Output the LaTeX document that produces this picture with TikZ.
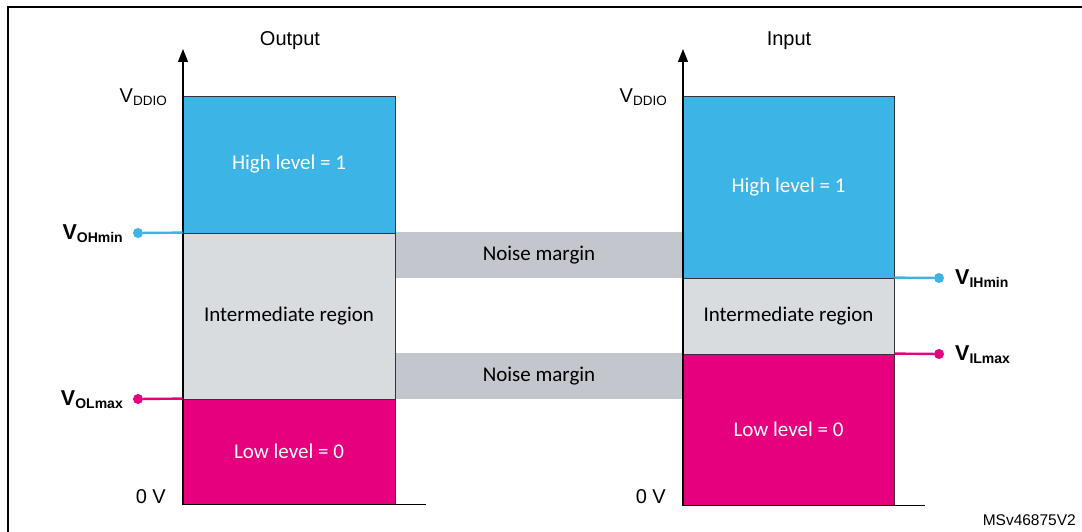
\documentclass[tikz,border=0pt]{standalone}
\usepackage{fontspec}
\setmainfont{Liberation Sans}
\newfontfamily\boxfont{Carlito}
\usetikzlibrary{arrows.meta}
\definecolor{stblue}{HTML}{3CB4E6}
\definecolor{stpink}{HTML}{E6007E}
\definecolor{midgrey}{HTML}{D9DCDF}
\definecolor{noisegrey}{HTML}{C3C6CC}
\tikzset{
  block/.style={draw=black!80, line width=0.8pt, inner sep=0pt, font=\boxfont\fontsize{21}{24}\selectfont},
  wtext/.style={text=white},
  noiseband/.style={fill=noisegrey, inner sep=0pt, minimum width=288pt, minimum height=46pt, font=\boxfont\fontsize{21}{24}\selectfont},
  dot/.style={circle, inner sep=0pt, minimum size=10pt},
  lvl/.style={font=\fontsize{21.5}{24}\selectfont\bfseries},
  plainlbl/.style={font=\fontsize{20}{24}\selectfont},
  axisline/.style={line width=1.3pt, -{Triangle[length=13pt,width=10pt]}},
  marker/.style={line width=2.4pt},
}
\newcommand{\sublbl}[2]{#1\raisebox{-3pt}{\fontsize{14}{14}\selectfont #2}}
\newcommand{\subplain}[2]{#1\raisebox{-3pt}{\fontsize{13.5}{14}\selectfont #2}}
\begin{document}
\begin{tikzpicture}[x=1pt,y=-1pt]
\useasboundingbox (0,0) rectangle (1082,532);
\clip (0,0) rectangle (1082,532);
% frame
\draw[line width=2.5pt] (8,600) -- (8,7) -- (1100,7);

% noise margin bands
\node[noiseband] (nm1) at (539,255) {Noise margin};
\node[noiseband] (nm2) at (539,376) {Noise margin};

% output blocks
\node[block, fill=stblue, wtext, minimum width=212pt, minimum height=137pt] (ohigh) at (289,164.5) {High level = 1};
\node[block, fill=midgrey, minimum width=212pt, minimum height=166pt] (omid) at (289,316) {Intermediate region};
\node[block, fill=stpink, wtext, minimum width=212pt, minimum height=105pt] (olow) at (289,451.5) {Low level = 0};

% input blocks
\node[block, fill=stblue, wtext, minimum width=211pt, minimum height=182pt] (ihigh) at (788.5,187) {High level = 1};
\node[block, fill=midgrey, minimum width=211pt, minimum height=76pt] (imid) at (788.5,316) {Intermediate region};
\node[block, fill=stpink, wtext, minimum width=211pt, minimum height=151pt] (ilow) at (788.5,429.5) {Low level = 0};

% axes
\coordinate (oorig) at (183,504.5);
\coordinate (otop) at (183,49);
\coordinate (oend) at (426,504.5);
\coordinate (iorig) at (683,505.5);
\coordinate (itop) at (683,49);
\coordinate (iend) at (925,505.5);
\draw[axisline] (oorig) -- (otop);
\draw[line width=1.3pt] (oorig) -- (oend);
\draw[axisline] (iorig) -- (itop);
\draw[line width=1.3pt] (iorig) -- (iend);

% titles
\node[plainlbl] (otitle) at (290,41) {Output};
\node[plainlbl] (ititle) at (789,41) {Input};

% axis labels
\node[plainlbl, anchor=base east, inner sep=0pt] (ovdd) at (167,103) {\subplain{V}{DDIO}};
\node[plainlbl, anchor=base east, inner sep=0pt] (ozero) at (166,503) {0 V};
\node[plainlbl, anchor=base east, inner sep=0pt] (ivdd) at (667,103) {\subplain{V}{DDIO}};
\node[plainlbl, anchor=base east, inner sep=0pt] (izero) at (666,503) {0 V};

% level markers
\node[dot, fill=stblue] (dohm) at (138,233) {};
\draw[stblue, marker] (dohm) -- (omid.north west);
\node[lvl, anchor=base east, inner sep=0pt] (lohm) at (123,239.5) {\sublbl{V}{OHmin}};

\node[dot, fill=stpink] (dolm) at (138,399) {};
\draw[stpink, marker] (dolm) -- (olow.north west);
\node[lvl, anchor=base east, inner sep=0pt] (lolm) at (123,405.5) {\sublbl{V}{OLmax}};

\node[dot, fill=stblue] (dihm) at (939,278) {};
\draw[stblue, marker] (dihm) -- (imid.north east);
\node[lvl, anchor=base west, inner sep=0pt] (lihm) at (955,284.5) {\sublbl{V}{IHmin}};

\node[dot, fill=stpink] (dilm) at (939,354) {};
\draw[stpink, marker] (dilm) -- (ilow.north east);
\node[lvl, anchor=base west, inner sep=0pt] (lilm) at (955,360.5) {\sublbl{V}{ILmax}};

% reference code
\node[anchor=base east, inner sep=0pt, font=\fontsize{15.5}{18}\selectfont] (code) at (1076,525) {MSv46875V2};
\end{tikzpicture}
\end{document}
